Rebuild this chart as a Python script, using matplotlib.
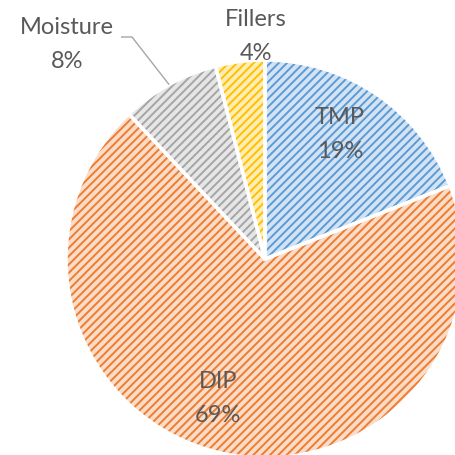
import matplotlib
matplotlib.use("Agg")
import matplotlib.pyplot as plt
import numpy as np

categories = ["TMP", "DIP", "Moisture", "Fillers"]
values = [19, 69, 8, 4]
base_colors = ["#5B9BD5", "#ED7D31", "#A5A5A5", "#FFC000"]
light_colors = ["#D3E3F4", "#FADCC8", "#E6E6E6", "#FFEDB5"]

W, H = 456, 455
plt.rcParams['hatch.linewidth'] = 1.4
fig = plt.figure(figsize=(W/100, H/100), dpi=100)
ax = fig.add_axes([0, 0, 1, 1])

cx, cy, R = 265, H - 259, 199

# base fill
ax.pie(values, colors=light_colors, startangle=90, counterclock=False,
       center=(cx, cy), radius=R, frame=True,
       wedgeprops=dict(linewidth=0))
# hatch overlay
wedges, _ = ax.pie(values, colors=["none"]*4, startangle=90, counterclock=False,
                   center=(cx, cy), radius=R, frame=True,
                   wedgeprops=dict(linewidth=0))
for w, c in zip(wedges, base_colors):
    w.set_facecolor("none")
    w.set_edgecolor(c)
    w.set_hatch("////")
    w.set_linewidth(0)
# white separators
ax.pie(values, colors=["none"]*4, startangle=90, counterclock=False,
       center=(cx, cy), radius=R, frame=True,
       wedgeprops=dict(linewidth=2.5, edgecolor="white", facecolor="none"))
ax.set_xlim(0, W)
ax.set_ylim(0, H)
ax.set_aspect('equal')
ax.axis('off')

tc = "#595959"
font = "Lato"
fs = 17
labels_pos = {
    "TMP": (340, 118, 151),
    "DIP": (218, 382, 415),
    "Moisture": (67, 28, 62),
    "Fillers": (256, 19, 53),
}
for cat, v in zip(categories, values):
    x, y1, y2 = labels_pos[cat]
    ax.text(x, H - y1, cat, ha='center', va='center', fontsize=fs, color=tc, family=font)
    ax.text(x, H - y2, f"{v}%", ha='center', va='center', fontsize=fs, color=tc, family=font)

# leader line for Moisture
cum = np.cumsum([0] + values)
mid = (cum[2] + cum[3]) / 2 / 100 * 360
ang = np.deg2rad(90 - mid)
ex, ey = cx + R * 1.0 * np.cos(ang), cy + R * 1.0 * np.sin(ang)
ax.plot([121, 132, ex], [H - 37, H - 37, ey], color="#A6A6A6", lw=1, solid_capstyle='butt')

fig.savefig("out.png", dpi=100)
